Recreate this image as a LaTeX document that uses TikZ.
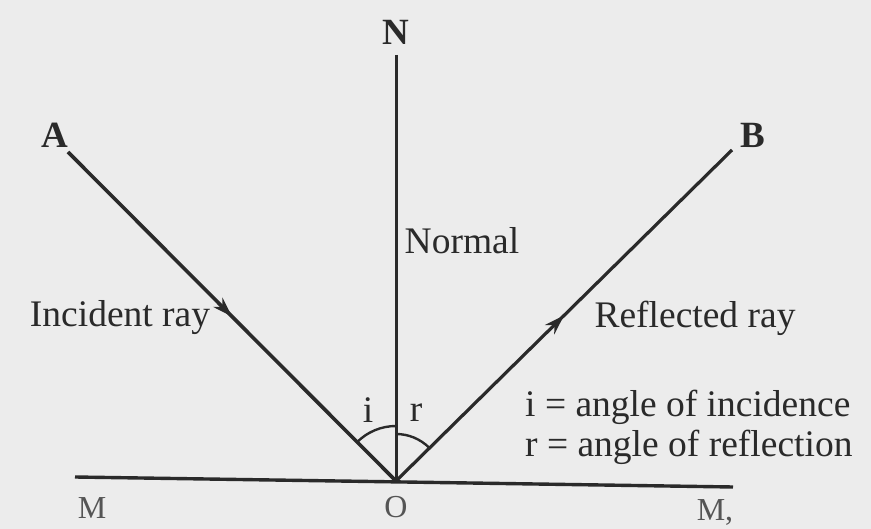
\documentclass[tikz,border=0pt]{standalone}
\usepackage{fontspec}
\setmainfont{Liberation Serif}
\usetikzlibrary{decorations.markings,arrows.meta}
\definecolor{ink}{HTML}{2A2A2A}
\definecolor{paper}{HTML}{ECECEC}
\begin{document}
\begin{tikzpicture}[x=1pt,y=-1pt,
  ray/.style={draw=ink,line width=3.6pt,
    postaction={decorate},
    decoration={markings,mark=at position 0.5 with {\arrow{Stealth[length=20pt,width=13pt]}}}},
  thinline/.style={draw=ink,line width=3pt},
  lbl/.style={text=ink,font=\fontsize{37.5}{42}\selectfont,inner sep=0pt},
  ptlbl/.style={text=ink,font=\fontsize{37}{40}\selectfont\bfseries,inner sep=0pt},
  mlbl/.style={text=ink!80,font=\fontsize{32}{36}\selectfont,inner sep=0pt},
  anglearc/.style={draw=ink,line width=2.4pt}]
\fill[paper] (0,0) rectangle (871,529);
\useasboundingbox (0,0) rectangle (871,529);
% points
\coordinate (O) at (396,481);
\coordinate (Ae) at (68,152);
\coordinate (Be) at (732,150);
\coordinate (Ne) at (396,55);
\coordinate (M1) at (75,477);
\coordinate (M2) at (733,487);
% mirror and normal
\draw[thinline,line width=3.4pt] (M1) -- (M2);
\draw[thinline] (Ne) -- (O);
% rays
\draw[ray] (Ae) -- (O);
\draw[ray,line width=3.2pt] (O) -- (Be);
% angle arcs
\draw[anglearc] ([shift={(90:-55)}]O) arc[start angle=-90,end angle=-135,radius=55];
\draw[anglearc] ([shift={(90:-47)}]O) arc[start angle=-90,end angle=-45,radius=47];
% labels
\node[ptlbl] (A) at (55,135) {A};
\node[ptlbl] (B) at (753,135) {B};
\node[ptlbl] (N) at (396,32) {N};
\node[lbl] (normal) at (462,241) {Normal};
\node[lbl] (inc) at (120,318) {Incident ray};
\node[lbl] (refl) at (695,318) {Reflected ray};
\node[lbl] (il) at (368,410) {i};
\node[lbl] (rl) at (416,413) {r};
\node[lbl,anchor=west] (d1) at (525,407) {i = angle of incidence};
\node[lbl,anchor=west] (d2) at (525,447) {r = angle of reflection};
\node[mlbl] (Ml) at (92,508) {M};
\node[mlbl] (Ol) at (396,507) {O};
\node[mlbl] (Mr) at (715,512) {M,};
\end{tikzpicture}
\end{document}
